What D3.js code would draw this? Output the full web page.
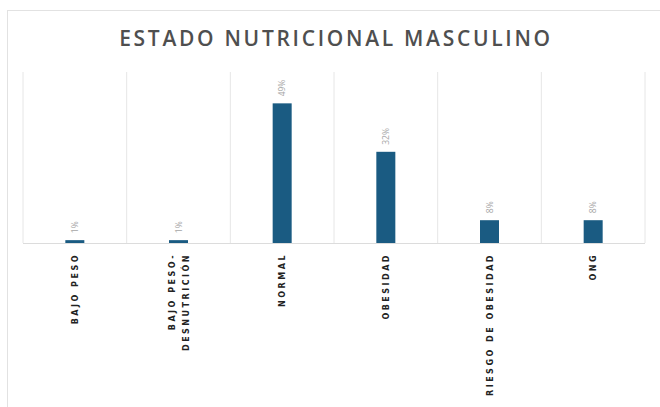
<!DOCTYPE html>
<html><head><meta charset="utf-8">
<script src="https://cdn.jsdelivr.net/npm/d3@7"></script>
<style>
html,body{margin:0;padding:0;background:#fff;}
svg{display:block;}
</style></head>
<body>
<svg id="chart" width="660" height="407"></svg>
<script>
const title = "ESTADO NUTRICIONAL MASCULINO";
const categories = [["BAJO PESO"], ["BAJO PESO-", "DESNUTRICIÓN"], ["NORMAL"], ["OBESIDAD"], ["RIESGO DE OBESIDAD"], ["ONG"]];
const values = [1, 1, 49, 32, 8, 8];
const valueLabels = ["1%", "1%", "49%", "32%", "8%", "8%"];
const yMax = 60;

const svg = d3.select("#chart");
// card
svg.append("rect").attr("x", 7.5).attr("y", 10.5).attr("width", 700).attr("height", 420)
  .attr("fill", "#fff").attr("stroke", "#e2e2e2");

svg.append("text").attr("x", 336).attr("y", 46).attr("text-anchor", "middle")
  .style("font-family", "'Open Sans', sans-serif").style("font-size", "21px")
  .style("font-weight", "600").style("letter-spacing", "2.7px").attr("fill", "#4f4f4f")
  .text(title);

const m = {left: 23, right: 645, top: 72, bottom: 243};
const idx = categories.map((d, i) => i);
const x = d3.scaleBand().domain(idx).range([m.left, m.right]).padding(0);
const y = d3.scaleLinear().domain([0, yMax]).range([m.bottom, m.top]);

const g = svg.append("g");
// vertical separators
g.selectAll("line.sep").data(idx.concat([idx.length])).enter().append("line")
  .attr("x1", d => d < idx.length ? x(d) : x(idx.length - 1) + x.bandwidth())
  .attr("x2", d => d < idx.length ? x(d) : x(idx.length - 1) + x.bandwidth())
  .attr("y1", m.top).attr("y2", m.bottom).attr("stroke", "#e6e6e6").attr("stroke-width", 1);
// baseline
g.append("line").attr("x1", m.left).attr("x2", m.right).attr("y1", m.bottom + 0.5).attr("y2", m.bottom + 0.5)
  .attr("stroke", "#dcdcdc");

const bw = 19;
g.selectAll("rect.bar").data(values).enter().append("rect")
  .attr("x", (d, i) => x(i) + x.bandwidth() / 2 - bw / 2)
  .attr("y", d => y(d)).attr("width", bw).attr("height", d => y(0) - y(d))
  .attr("fill", "#1a5b82");

g.selectAll("text.val").data(values).enter().append("text")
  .attr("transform", (d, i) => `translate(${x(i) + x.bandwidth() / 2 + 3},${y(d) - 7}) rotate(-90)`)
  .attr("text-anchor", "start")
  .style("font-family", "'Open Sans', sans-serif").style("font-size", "8.5px").attr("fill", "#a5a5a5")
  .text((d, i) => valueLabels[i]);

const lab = g.selectAll("text.cat").data(categories).enter().append("text")
  .attr("transform", (d, i) => `translate(${x(i) + x.bandwidth() / 2},${m.bottom + 10}) rotate(-90)`)
  .attr("text-anchor", "end")
  .style("font-family", "'DejaVu Sans', sans-serif").style("font-size", "8px")
  .style("font-weight", "bold").style("letter-spacing", "2.5px").attr("fill", "#222");
lab.each(function(d) {
  const t = d3.select(this);
  const n = d.length;
  d.forEach((s, j) => {
    t.append("tspan").attr("x", 0).attr("y", (j - (n - 1) / 2) * 14 + 3).text(s);
  });
});
</script>
</body></html>
